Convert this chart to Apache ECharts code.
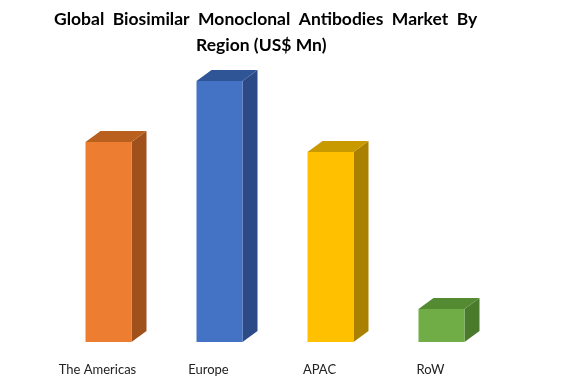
<!DOCTYPE html>
<html><head><meta charset="utf-8">
<script src="https://cdn.jsdelivr.net/npm/echarts@6/dist/echarts.min.js"></script>
<style>html,body{margin:0;padding:0;background:#fff}#c{width:576px;height:384px}</style>
</head><body><div id="c"></div>
<script>
const categories = ['The Americas', 'Europe', 'APAC', 'RoW'];
const values = [200, 261, 190, 33];
const frontColors = ['#ED7D31', '#4472C4', '#FFC000', '#70AD47'];
const topColors = ['#B9601F', '#2F5597', '#C99A00', '#538A32'];
const sideColors = ['#A0501A', '#2C4A86', '#A98000', '#4A7A2C'];

const chart = echarts.init(document.getElementById('c'), null, {renderer: 'canvas'});
chart.setOption({
  animation: false,
  graphic: [
    {type: 'text', left: 54, top: 10, style: {text: 'Global  Biosimilar  Monoclonal  Antibodies  Market  By', font: 'bold 17.5px Lato', fill: '#000'}},
    {type: 'text', left: 196, top: 36, style: {text: 'Region (US$ Mn)', font: 'bold 17.5px Lato', fill: '#000'}}
  ],
  grid: {left: 42, right: 90, top: 42, bottom: 42},
  xAxis: {
    type: 'category', data: categories,
    axisLine: {show: false}, axisTick: {show: false},
    axisLabel: {fontFamily: 'Lato', fontSize: 13, color: '#222', margin: 21}
  },
  yAxis: {type: 'value', min: 0, max: 300, show: false, splitLine: {show: false}},
  series: [{
    type: 'custom',
    data: values.map((v, i) => [i, v]),
    renderItem: function (params, api) {
      const i = api.value(0);
      const top = api.coord([i, api.value(1)]);
      const base = api.coord([i, 0]);
      const x0 = top[0] - 12, x1 = top[0] + 34;
      const yT = top[1], yB = base[1];
      const dx = 15, dy = -11;
      return {
        type: 'group',
        children: [
          {type: 'polygon', shape: {points: [[x1, yT], [x1 + dx, yT + dy], [x1 + dx, yB + dy], [x1, yB]]}, style: {fill: sideColors[i]}},
          {type: 'polygon', shape: {points: [[x0, yT], [x0 + dx, yT + dy], [x1 + dx, yT + dy], [x1, yT]]}, style: {fill: topColors[i]}},
          {type: 'rect', shape: {x: x0, y: yT, width: x1 - x0, height: yB - yT}, style: {fill: frontColors[i]}}
        ]
      };
    }
  }]
});
</script></body></html>
